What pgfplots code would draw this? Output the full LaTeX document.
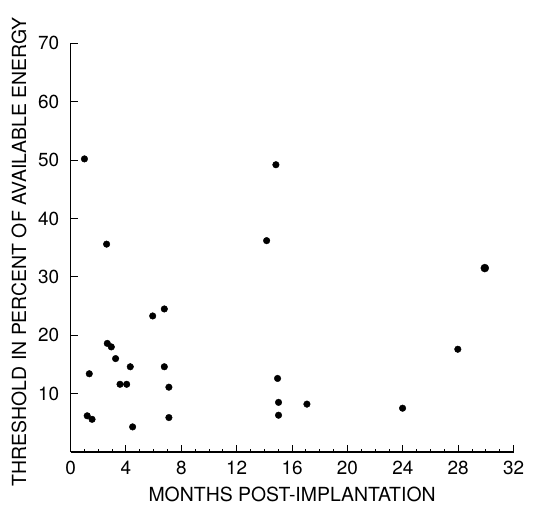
\documentclass[border=0pt]{standalone}
\usepackage{fontspec}
\setmainfont{TeX Gyre Heros}
\usepackage{pgfplots}
\pgfplotsset{compat=1.18}

\begin{document}
\begin{tikzpicture}
\begin{axis}[
    at={(0,0)}, anchor=south west,
    scale only axis,
    width=443bp, height=408.7bp,
    xmin=0, xmax=32, ymin=0, ymax=70,
    axis x line*=bottom, axis y line*=left,
    axis line style={line width=1.1pt, -},
    xtick={0,4,...,32}, ytick={10,20,...,70},
    minor x tick num=3,
    tick align=inside,
    major tick length=7bp, minor tick length=3.5bp,
    every tick/.style={black, line width=1pt},
    tick label style={font=\fontsize{19}{22}\selectfont},
    /pgf/number format/assume math mode=true,
    xticklabel style={anchor=center, yshift=-16bp},
    yticklabel style={anchor=east, xshift=-8bp},
    label style={font=\fontsize{19.5}{22}\selectfont},
    xlabel={MONTHS POST-IMPLANTATION},
    ylabel={THRESHOLD IN PERCENT OF AVAILABLE ENERGY},
    xlabel style={at={(axis description cs:0.5,-0.103)}, anchor=center},
    ylabel style={at={(axis description cs:-0.1165,0.49)}, anchor=center, rotate=0},
    clip=false,
]
\addplot[only marks, mark=*, mark size=3.3bp, black] coordinates {
    (1.0,50.2) (2.6,35.6) (1.35,13.4) (1.2,6.2) (1.55,5.6)
    (2.65,18.6) (2.94,18.0) (3.25,16.0) (3.57,11.6) (4.05,11.6)
    (4.31,14.6) (4.48,4.3) (5.93,23.3) (6.77,24.5) (6.77,14.6)
    (7.1,11.1) (7.1,5.9) (14.16,36.2) (14.83,49.2) (14.95,12.6)
    (15.02,8.5) (15.02,6.3) (17.07,8.2) (23.98,7.5) (27.97,17.6)
};
\addplot[only marks, mark=*, mark size=4bp, black] coordinates {
    (29.92,31.5)
};
\end{axis}
\pgfresetboundingbox
\path (-70.6bp,-62bp) rectangle (478.4bp,452bp);
\end{tikzpicture}
\end{document}
